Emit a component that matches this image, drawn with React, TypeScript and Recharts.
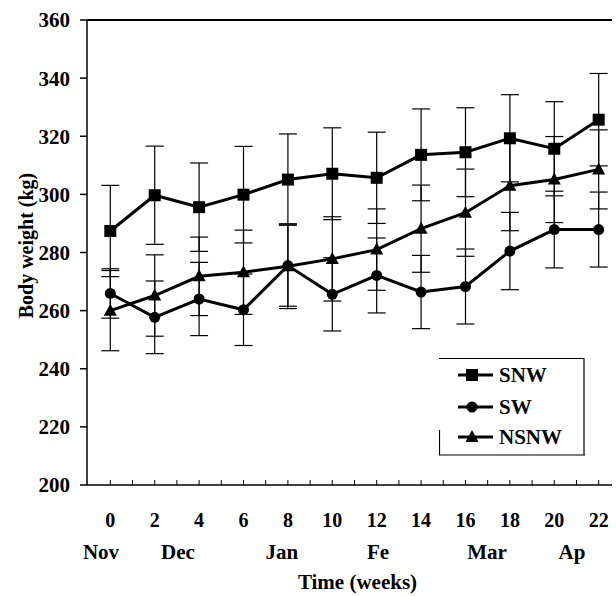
import React from 'react';
import { LineChart, Line, XAxis, YAxis, ErrorBar, Legend, ReferenceLine } from 'recharts';

const weeks = [0, 2, 4, 6, 8, 10, 12, 14, 16, 18, 20, 22];
const snwMean = [287.4, 299.7, 295.6, 299.9, 305.1, 307.1, 305.7, 313.6, 314.5, 319.3, 315.7, 325.7];
const snwSd = [15.7, 16.9, 15.2, 16.6, 15.7, 15.8, 15.7, 15.8, 15.3, 15.0, 16.2, 15.9];
const swMean = [265.9, 257.7, 264.0, 260.3, 275.5, 265.6, 272.1, 266.4, 268.3, 280.5, 287.9, 287.9];
const swSd = [8.5, 12.5, 12.6, 12.3, 14.0, 12.6, 12.9, 12.6, 12.9, 13.3, 13.2, 12.9];
const nsnwMean = [260.0, 265.2, 271.8, 273.2, 275.3, 277.8, 281.0, 288.2, 293.7, 303.0, 305.1, 308.6];
const nsnwSd = [13.8, 14.0, 13.5, 14.5, 14.6, 14.5, 14.0, 15.0, 15.0, 15.5, 14.8, 13.6];

const yTicks = [200, 220, 240, 260, 280, 300, 320, 340, 360];
const weekTicks = [0, 1, 2, 3, 4, 5, 6, 7, 8, 9, 10, 11, 12, 13, 14, 15, 16, 17, 18, 19, 20, 21, 22];
const monthPositions = [-0.42, 3.05, 7.73, 12.06, 16.97, 20.8];
const monthLabels = ['Nov', 'Dec', 'Jan', 'Fe', 'Mar', 'Ap'];
const seriesNames = ['SNW', 'SW', 'NSNW'];

const data = weeks.map((w, i) => ({
  week: w,
  snw: snwMean[i],
  snwSd: snwSd[i],
  sw: swMean[i],
  swSd: swSd[i],
  nsnw: nsnwMean[i],
  nsnwSd: nsnwSd[i],
}));

const FONT = '"Liberation Serif", "Times New Roman", serif';

const SquareDot = (p: any) => {
  const { cx, cy } = p;
  if (cx == null || cy == null) return null;
  return <rect key={`s${p.index}`} x={cx - 6} y={cy - 6} width={12} height={12} fill="#000" />;
};
const CircleDot = (p: any) => {
  const { cx, cy } = p;
  if (cx == null || cy == null) return null;
  return <circle key={`c${p.index}`} cx={cx} cy={cy} r={5.5} fill="#000" />;
};
const TriDot = (p: any) => {
  const { cx, cy } = p;
  if (cx == null || cy == null) return null;
  return <path key={`t${p.index}`} d={`M${cx},${cy - 7} L${cx + 6.5},${cy + 5} L${cx - 6.5},${cy + 5} Z`} fill="#000" />;
};

const WeekTick = (p: any) => {
  const { x, y, payload } = p;
  const v = payload.value;
  return (
    <g>
      <line x1={x} x2={x} y1={y} y2={y - 5} stroke="#000" strokeWidth={1} />
      {v % 2 === 0 ? (
        <text x={x} y={y + 42} textAnchor="middle" fontFamily={FONT} fontWeight="bold" fontSize={20} fill="#000">
          {v}
        </text>
      ) : null}
    </g>
  );
};

const MonthTick = (p: any) => {
  const { x, y, index } = p;
  return (
    <text x={x} y={y + 29} textAnchor="middle" fontFamily={FONT} fontWeight="bold" fontSize={21} fill="#000">
      {monthLabels[index]}
    </text>
  );
};

const LegendBox = () => {
  const rowY = [17, 49, 79];
  const markers = [
    <rect key="m0" x={27} y={rowY[0] - 6} width={12} height={12} fill="#000" />,
    <circle key="m1" cx={33} cy={rowY[1]} r={5.5} fill="#000" />,
    <path key="m2" d={`M33,${rowY[2] - 7} L39.5,${rowY[2] + 5} L26.5,${rowY[2] + 5} Z`} fill="#000" />,
  ];
  return (
    <svg width={150} height={100} style={{ display: 'block' }}>
      <line x1={0} x2={145} y1={0.5} y2={0.5} stroke="#000" strokeWidth={1.2} />
      <line x1={145} x2={145} y1={0} y2={97} stroke="#000" strokeWidth={1.2} />
      <line x1={0} x2={146} y1={97} y2={97} stroke="#000" strokeWidth={1.2} />
      <line x1={0.5} x2={0.5} y1={72} y2={97} stroke="#000" strokeWidth={1.2} />
      {seriesNames.map((n, i) => (
        <g key={n}>
          <line x1={19} x2={54} y1={rowY[i]} y2={rowY[i]} stroke="#000" strokeWidth={3} />
          {markers[i]}
          <text x={60} y={rowY[i] + 7} fontFamily={FONT} fontWeight="bold" fontSize={21} fill="#000">
            {n}
          </text>
        </g>
      ))}
    </svg>
  );
};

export default function App() {
  return (
    <div style={{ position: 'absolute', left: 0, top: 0, width: 616, height: 596, background: '#fff' }}>
      <LineChart width={616} height={596} data={data} margin={{ top: 20, right: 4, left: 27, bottom: 0 }}>
        <XAxis
          dataKey="week"
          type="number"
          domain={[-1.05, 22.6]}
          ticks={weekTicks}
          interval={0}
          allowDataOverflow
          height={45}
          stroke="#000"
          strokeWidth={1.5}
          tickLine={false}
          tickSize={0}
          tickMargin={0}
          tick={<WeekTick />}
        />
        <XAxis
          xAxisId="month"
          dataKey="week"
          type="number"
          domain={[-1.05, 22.6]}
          ticks={monthPositions}
          interval={0}
          allowDataOverflow
          height={66}
          axisLine={false}
          tickLine={false}
          tickSize={0}
          tickMargin={0}
          tick={<MonthTick />}
          label={(lp: any) => {
            const vb = lp.viewBox || {};
            return (
              <text
                x={vb.x + vb.width / 2 + 8}
                y={vb.y + 59}
                textAnchor="middle"
                fontFamily={FONT}
                fontWeight="bold"
                fontSize={21}
                fill="#000"
              >
                Time (weeks)
              </text>
            );
          }}
        />
        <YAxis
          type="number"
          domain={[200, 360]}
          ticks={yTicks}
          interval={0}
          width={60}
          stroke="#000"
          strokeWidth={1.5}
          tickSize={7}
          tickMargin={10}
          tick={{ fill: '#000', fontFamily: FONT, fontWeight: 'bold', fontSize: 21 }}
          label={(lp: any) => {
            const vb = lp.viewBox || {};
            const cx = 26;
            const cy = vb.y + vb.height / 2 - 7;
            return (
              <text
                x={cx}
                y={cy}
                transform={`rotate(-90, ${cx}, ${cy})`}
                textAnchor="middle"
                dominantBaseline="central"
                fontFamily={FONT}
                fontWeight="bold"
                fontSize={20}
                fill="#000"
              >
                Body weight (kg)
              </text>
            );
          }}
        />
        <ReferenceLine y={360} stroke="#000" strokeWidth={2} ifOverflow="extendDomain" />
        <Legend
          layout="vertical"
          align="center"
          verticalAlign="middle"
          content={<LegendBox />}
          wrapperStyle={{ position: 'absolute', left: 439, top: 358, width: 150, height: 100 }}
        />
        <Line
          dataKey="snw"
          name="SNW"
          stroke="#000"
          strokeWidth={3}
          dot={SquareDot}
          activeDot={false}
          isAnimationActive={false}
        >
          <ErrorBar dataKey="snwSd" width={9} stroke="#000" strokeWidth={1.2} direction="y" />
        </Line>
        <Line
          dataKey="sw"
          name="SW"
          stroke="#000"
          strokeWidth={3}
          dot={CircleDot}
          activeDot={false}
          isAnimationActive={false}
        >
          <ErrorBar dataKey="swSd" width={9} stroke="#000" strokeWidth={1.2} direction="y" />
        </Line>
        <Line
          dataKey="nsnw"
          name="NSNW"
          stroke="#000"
          strokeWidth={3}
          dot={TriDot}
          activeDot={false}
          isAnimationActive={false}
        >
          <ErrorBar dataKey="nsnwSd" width={9} stroke="#000" strokeWidth={1.2} direction="y" />
        </Line>
      </LineChart>
    </div>
  );
}
